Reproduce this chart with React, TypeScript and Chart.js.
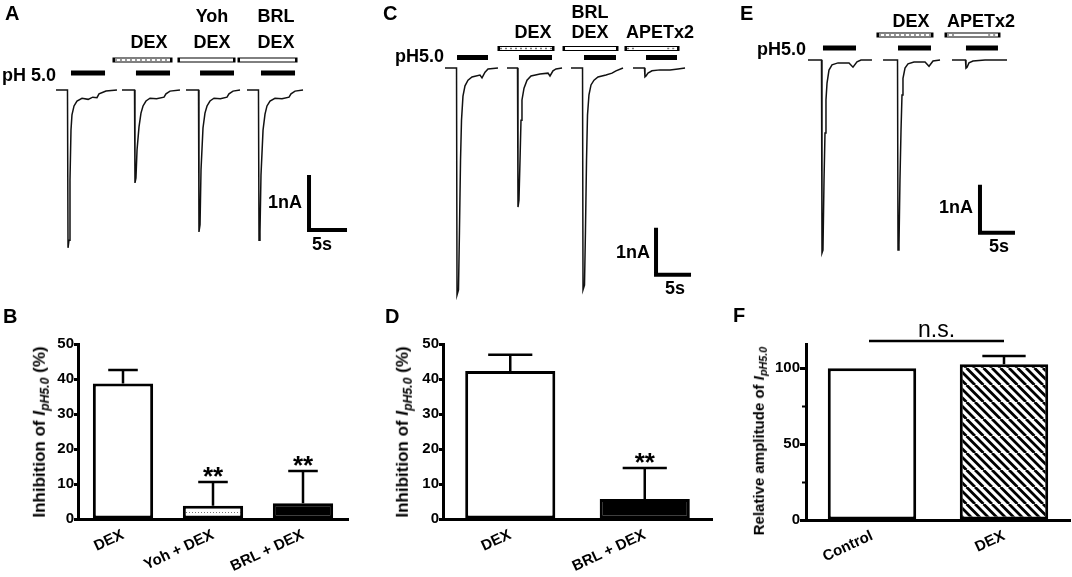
import React, { useEffect, useRef } from 'react';
import { Chart, registerables } from 'chart.js';

Chart.register(...registerables);

const FONT = "'Liberation Sans', Arial, Helvetica, sans-serif";

// ---------------- Panel A : currents [time (s), current (nA)] ----------------
const A_sweep1 = [[7.37,0],[8.88,0],[8.95,-2.87],[9.08,-2.73],[9.21,-1.64],[9.34,-0.73],[9.47,-0.45],[9.74,-0.29],[10.13,-0.2],[10.79,-0.15],[11.6,-0.17],[12.2,-0.13],[12.76,-0.14],[13.03,-0.07],[13.55,-0.04],[13.95,-0.02],[15.39,0]];
const A_sweep2 = [[16.05,0],[17.7,0],[17.76,-1.69],[17.89,-1.6],[18.03,-1.09],[18.29,-0.67],[18.55,-0.42],[18.82,-0.29],[19.21,-0.2],[19.74,-0.15],[20.6,-0.16],[21.58,-0.13],[21.84,-0.07],[22.37,-0.02],[23.68,0]];
const A_sweep3 = [[24.47,0],[26.12,0],[26.18,-2.58],[26.32,-2.45],[26.45,-1.45],[26.71,-0.69],[26.97,-0.42],[27.24,-0.29],[27.63,-0.2],[28.16,-0.15],[29.0,-0.16],[29.87,-0.13],[30.13,-0.07],[30.66,-0.02],[31.58,0]];
const A_sweep4 = [[32.5,0],[34.01,0],[34.08,-2.73],[34.21,-2.58],[34.34,-1.55],[34.61,-0.73],[34.87,-0.44],[35.13,-0.29],[35.53,-0.2],[36.18,-0.15],[37.1,-0.16],[38.03,-0.13],[38.29,-0.07],[38.82,-0.02],[39.87,0]];
const A_ph = [[9.34,13.82],[17.89,22.37],[26.32,30.79],[34.34,38.82]];
const A_drugWindows = [[15.13,22.37],[23.68,30.66],[31.58,38.82]];
const A_drugs = ['DEX','Yoh + DEX','BRL + DEX'];

// ---------------- Panel C ----------------
const C_sweep1 = [[12.14,0],[13.79,0],[13.86,-4.83],[14.07,-4.72],[14.21,-3.45],[14.36,-1.96],[14.5,-1.11],[14.71,-0.6],[15.0,-0.38],[15.43,-0.26],[16.0,-0.19],[17.14,-0.15],[17.43,-0.21],[17.86,-0.09],[18.29,-0.02],[19.71,0]];
const C_sweep2 = [[21.0,0],[22.5,0],[22.57,-2.96],[22.71,-2.81],[22.86,-1.96],[23.0,-1.11],[23.14,-0.68],[23.43,-0.43],[23.86,-0.26],[24.43,-0.17],[25.71,-0.13],[26.86,-0.11],[27.14,-0.17],[27.57,-0.06],[28.0,-0.02],[28.86,0]];
const C_sweep3 = [[30.14,0],[31.79,0],[31.86,-4.72],[32.07,-4.62],[32.21,-3.45],[32.36,-1.96],[32.5,-1.0],[32.71,-0.57],[33.0,-0.36],[33.43,-0.26],[34.0,-0.19],[35.14,-0.15],[36.0,-0.11],[36.57,-0.06],[37.57,0]];
const C_sweep4 = [[39.0,0],[40.64,0],[40.71,-0.19],[40.86,-0.17],[41.14,-0.11],[41.71,-0.06],[42.86,-0.04],[44.29,-0.04],[45.43,-0.02],[46.43,0]];
const C_ph = [[13.86,18.29],[22.71,27.43],[32.0,36.57],[40.86,45.29]];
const C_drugWindows = [[20.0,27.43],[29.29,36.57],[38.14,45.29]];
const C_drugs = ['DEX','BRL + DEX','APETx2'];

// ---------------- Panel E ----------------
const E_sweep1 = [[12.57,0],[14.5,0],[14.57,-4.02],[14.71,-3.96],[14.86,-2.5],[15.0,-1.52],[15.14,-0.83],[15.29,-0.48],[15.57,-0.21],[16.0,-0.1],[16.86,-0.06],[18.43,-0.06],[19.0,-0.15],[19.57,-0.04],[20.14,0],[21.71,0]];
const E_sweep2 = [[23.29,0],[25.36,0],[25.43,-3.96],[25.57,-3.85],[25.71,-2.5],[25.86,-1.46],[26.0,-0.73],[26.14,-0.38],[26.43,-0.17],[26.86,-0.08],[27.71,-0.04],[29.29,-0.04],[29.86,-0.13],[30.43,-0.02],[31.43,0]];
const E_sweep3 = [[33.14,0],[35.07,0],[35.14,-0.17],[35.29,-0.15],[35.57,-0.06],[36.14,-0.02],[37.86,0],[41.0,0]];
const E_ph = [[14.71,19.43],[25.43,30.14],[35.14,39.71]];
const E_drugWindows = [[22.71,30.14],[32.43,39.71]];
const E_drugs = ['DEX','APETx2'];

// ---------------- Bar panels ----------------
const B_categories = ['DEX','Yoh + DEX','BRL + DEX'];
const B_values = [38.7, 3.8, 4.5];
const B_errors = [3.9, 6.8, 9.2];
const B_sig = ['', '**', '**'];

const D_categories = ['DEX','BRL + DEX'];
const D_values = [42.3, 5.7];
const D_errors = [4.6, 8.9];
const D_sig = ['', '**'];

const F_categories = ['Control','DEX'];
const F_values = [100, 102.6];
const F_errors = [0, 5.5];
const F_sig = ['', ''];
const F_minorTicks = [25, 75];

// ---------------- layout (pixels / scaling only) ----------------
const LAYOUT_A = { left: 0, top: 0, width: 357, height: 300, pxPerSec: 7.6, pxPerNA: 55, baseline: 90, phLevel: 0.31, drugLevel: 0.545, scaleT: 40.66, scaleI: -1.545 };
const LAYOUT_C = { left: 360, top: 0, width: 357, height: 300, pxPerSec: 7.0, pxPerNA: 47, baseline: 68, phLevel: 0.223, drugLevel: 0.415, scaleT: 42.29, scaleI: -3.40 };
const LAYOUT_E = { left: 720, top: 0, width: 352, height: 300, pxPerSec: 7.0, pxPerNA: 48, baseline: 60, phLevel: 0.25, drugLevel: 0.52, scaleT: 37.14, scaleI: -2.6 };

const pts = (arr: number[][]) => arr.map(([x, y]) => ({ x, y }));

function traceConfig(L: any, sweeps: number[][][], ph: number[][], windows: number[][], drugs: string[]): any {
  const datasets: any[] = [];
  const line = (data: any[], color: string, width: number, order: number, extra: any = {}) => ({
    data, borderColor: color, borderWidth: width, showLine: true, pointRadius: 0, pointHoverRadius: 0,
    fill: false, tension: 0, order, ...extra,
  });
  sweeps.forEach((s) => datasets.push(line(pts(s), '#111', 1.5, 5)));
  ph.forEach(([a, b]) => datasets.push(line([{ x: a, y: L.phLevel }, { x: b, y: L.phLevel }], '#000', 5, 5)));
  windows.forEach(([a, b], i) => {
    const lv = L.drugLevel;
    datasets.push(line([{ x: a, y: lv }, { x: b, y: lv }], '#000', 5, 4, { borderCapStyle: 'square' }));
    datasets.push(line([{ x: a, y: lv }, { x: b, y: lv }], '#fff', 3, 3));
    const name = drugs[i];
    if (name === 'DEX') {
      datasets.push(line([{ x: a, y: lv }, { x: b, y: lv }], '#777', 1.6, 2, { borderDash: [2, 3] }));
    } else if (name === 'APETx2') {
      datasets.push(line([{ x: a, y: lv }, { x: a + 1.4, y: lv }], '#777', 1.6, 2, { borderDash: [2, 3] }));
      datasets.push(line([{ x: b - 1.4, y: lv }, { x: b, y: lv }], '#777', 1.6, 2, { borderDash: [2, 3] }));
    }
  });
  datasets.push(line([
    { x: L.scaleT, y: L.scaleI },
    { x: L.scaleT, y: L.scaleI - 1 },
    { x: L.scaleT + 5, y: L.scaleI - 1 },
  ], '#000', 4, 1, { borderJoinStyle: 'miter' }));
  return {
    type: 'scatter',
    data: { datasets },
    options: {
      animation: false, responsive: false, maintainAspectRatio: false,
      layout: { padding: 0 },
      events: [],
      plugins: { legend: { display: false }, tooltip: { enabled: false } },
      scales: {
        x: { type: 'linear', display: false, min: 0, max: L.width / L.pxPerSec },
        y: { type: 'linear', display: false, max: L.baseline / L.pxPerNA, min: -(L.height - L.baseline) / L.pxPerNA },
      },
    },
  };
}

const errorBarPlugin = {
  id: 'errorBars',
  afterDatasetsDraw(chart: any, _a: any, opts: any) {
    if (!opts || !opts.errors) return;
    const { ctx } = chart;
    const y = chart.scales.y;
    const meta = chart.getDatasetMeta(0);
    const vals = chart.data.datasets[0].data;
    ctx.save();
    meta.data.forEach((bar: any, i: number) => {
      const v = vals[i];
      const e = opts.errors[i] || 0;
      const x = bar.x;
      const w = bar.width;
      const yTop = y.getPixelForValue(v);
      const yErr = y.getPixelForValue(v + e);
      if (e > 0) {
        ctx.strokeStyle = '#000';
        ctx.lineWidth = 2.5;
        ctx.beginPath();
        ctx.moveTo(x, yTop);
        ctx.lineTo(x, yErr);
        ctx.moveTo(x - w * 0.245, yErr);
        ctx.lineTo(x + w * 0.245, yErr);
        ctx.stroke();
      }
      const s = opts.sig && opts.sig[i];
      if (s) {
        ctx.fillStyle = '#000';
        ctx.font = `bold 26px ${FONT}`;
        ctx.textAlign = 'center';
        ctx.textBaseline = 'alphabetic';
        ctx.fillText(s, x, yErr + 3);
      }
    });
    if (opts.minor && opts.minor.length) {
      const left = chart.chartArea.left;
      ctx.strokeStyle = '#000';
      ctx.lineWidth = 2;
      ctx.beginPath();
      opts.minor.forEach((m: number) => {
        const py = Math.round(y.getPixelForValue(m)) + 0.5;
        ctx.moveTo(left - 4, py);
        ctx.lineTo(left, py);
      });
      ctx.stroke();
    }
    ctx.restore();
  },
};

const bracketPlugin = {
  id: 'bracket',
  afterDraw(chart: any, _a: any, opts: any) {
    if (!opts || !opts.label) return;
    const { ctx } = chart;
    const meta = chart.getDatasetMeta(0);
    const x0 = meta.data[opts.from].x - 3;
    const x1 = meta.data[opts.to].x;
    const yy = chart.scales.y.getPixelForValue(opts.level);
    ctx.save();
    ctx.strokeStyle = '#000';
    ctx.lineWidth = 2.5;
    ctx.beginPath();
    ctx.moveTo(x0, yy);
    ctx.lineTo(x1, yy);
    ctx.stroke();
    ctx.fillStyle = '#000';
    ctx.font = `23px ${FONT}`;
    ctx.textAlign = 'center';
    ctx.textBaseline = 'alphabetic';
    ctx.fillText(opts.label, (x0 + x1) / 2, yy - 4);
    ctx.restore();
  },
};

function makeDots() {
  const c = document.createElement('canvas');
  c.width = 3; c.height = 5;
  const g = c.getContext('2d')!;
  g.fillStyle = '#fff'; g.fillRect(0, 0, 3, 5);
  g.fillStyle = '#777'; g.fillRect(0, 2, 1, 1);
  return g.createPattern(c, 'repeat');
}

function makeHatch() {
  const s = 8.5;
  const c = document.createElement('canvas');
  c.width = 17; c.height = 17;
  const g = c.getContext('2d')!;
  g.fillStyle = '#fff'; g.fillRect(0, 0, 17, 17);
  g.strokeStyle = '#000'; g.lineWidth = 2.8;
  g.beginPath();
  for (let k = -2; k <= 2; k++) {
    g.moveTo(k * s, 0);
    g.lineTo(k * s + 17, 17);
  }
  g.stroke();
  return g.createPattern(c, 'repeat');
}

function barConfig(p: any): any {
  return {
    type: 'bar',
    data: {
      labels: p.labels,
      datasets: [{
        data: p.values,
        backgroundColor: p.fills,
        borderColor: '#000',
        borderWidth: 3,
        borderSkipped: false,
        categoryPercentage: 1,
        barPercentage: 0.67,
      }],
    },
    plugins: [errorBarPlugin, bracketPlugin],
    options: {
      animation: false, responsive: false, maintainAspectRatio: false,
      events: [],
      layout: { padding: { top: p.padTop, right: p.padRight, left: 0, bottom: 0 } },
      plugins: {
        legend: { display: false },
        tooltip: { enabled: false },
        errorBars: { errors: p.errors, sig: p.sig, minor: p.minor || [] },
        bracket: p.bracket || {},
      },
      scales: {
        x: {
          grid: { display: false, drawTicks: false },
          border: { display: true, color: '#000', width: 3 },
          ticks: { color: '#000', font: { family: FONT, size: 15, weight: 'bold' }, minRotation: 25, maxRotation: 25, padding: 7, autoSkip: false },
          afterFit: (s: any) => { s.height = p.xHeight; s.paddingLeft = 0; s.paddingRight = 0; },
        },
        y: {
          min: 0, max: p.yMax,
          grid: { display: true, drawOnChartArea: false, drawTicks: true, tickLength: p.tickLen || 4, tickWidth: 3, tickColor: '#000' },
          border: { display: true, color: '#000', width: 3 },
          ticks: {
            stepSize: p.yStep,
            color: '#000', padding: 0,
            font: { family: FONT, size: 15, weight: 'bold' },
          },
          afterBuildTicks: (s: any) => { s.ticks = s.ticks.filter((t: any) => t.value % p.yStep === 0); },
          afterFit: (s: any) => { s.width = p.yWidth; s.paddingTop = 0; s.paddingBottom = 0; },
        },
      },
    },
  };
}

function ChartBox({ rect, build }: { rect: any; build: () => any }) {
  const ref = useRef<HTMLCanvasElement>(null);
  useEffect(() => {
    const chart = new Chart(ref.current as HTMLCanvasElement, build());
    return () => chart.destroy();
  }, []);
  return (
    <canvas
      ref={ref}
      width={rect.width}
      height={rect.height}
      style={{ position: 'absolute', left: rect.left, top: rect.top, width: rect.width, height: rect.height }}
    />
  );
}

function Txt({ x, base, size = 18, align = 'left', weight = 700, children }: any) {
  const tx = align === 'center' ? 'translateX(-50%)' : align === 'right' ? 'translateX(-100%)' : 'none';
  return (
    <div style={{
      position: 'absolute', left: x, top: base - 0.85 * size, fontFamily: FONT, fontSize: size,
      fontWeight: weight, lineHeight: `${size}px`, whiteSpace: 'nowrap', transform: tx, color: '#000',
    }}>{children}</div>
  );
}

function YTitle({ cx, cy, size, children }: any) {
  return (
    <div style={{
      position: 'absolute', left: cx, top: cy, transform: 'translate(-50%, -50%) rotate(-90deg)',
      whiteSpace: 'nowrap', fontFamily: FONT, fontSize: size, fontWeight: 700, color: '#000', lineHeight: 1.2,
    }}>{children}</div>
  );
}

const Ipsub = () => (
  <>
    <i>I</i><sub style={{ fontSize: '0.72em', fontStyle: 'italic', verticalAlign: '-0.3em' }}>pH5.0</sub>
  </>
);

export default function App() {
  const rectB = { left: 0, top: 300, width: 357, height: 277 };
  const rectD = { left: 360, top: 300, width: 357, height: 277 };
  const rectF = { left: 720, top: 300, width: 352, height: 277 };
  return (
    <div style={{ position: 'absolute', left: 0, top: 0, width: 1072, height: 577, background: '#fff', overflow: 'hidden' }}>
      <ChartBox rect={LAYOUT_A} build={() => traceConfig(LAYOUT_A, [A_sweep1, A_sweep2, A_sweep3, A_sweep4], A_ph, A_drugWindows, A_drugs)} />
      <ChartBox rect={LAYOUT_C} build={() => traceConfig(LAYOUT_C, [C_sweep1, C_sweep2, C_sweep3, C_sweep4], C_ph, C_drugWindows, C_drugs)} />
      <ChartBox rect={LAYOUT_E} build={() => traceConfig(LAYOUT_E, [E_sweep1, E_sweep2, E_sweep3], E_ph, E_drugWindows, E_drugs)} />
      <ChartBox rect={rectB} build={() => barConfig({
        labels: B_categories, values: B_values, errors: B_errors, sig: B_sig,
        fills: ['#fff', makeDots(), '#000'], yMax: 50, yStep: 10,
        yWidth: 78, xHeight: 58, padTop: 44, padRight: 9,
      })} />
      <ChartBox rect={rectD} build={() => barConfig({
        labels: D_categories, values: D_values, errors: D_errors, sig: D_sig,
        fills: ['#fff', '#000'], yMax: 50, yStep: 10,
        yWidth: 83, xHeight: 58, padTop: 44, padRight: 5,
      })} />
      <ChartBox rect={rectF} build={() => barConfig({
        labels: F_categories, values: F_values, errors: F_errors, sig: F_sig,
        fills: ['#fff', makeHatch()], yMax: 116, yStep: 50, minor: F_minorTicks, tickLen: 6,
        yWidth: 86, xHeight: 57, padTop: 44, padRight: 2,
        bracket: { from: 0, to: 1, level: 118, label: 'n.s.' },
      })} />

      {/* Panel A text */}
      <Txt x={5} base={20} size={20}>A</Txt>
      <Txt x={2} base={81}>pH 5.0</Txt>
      <Txt x={149} base={48} align="center">DEX</Txt>
      <Txt x={212} base={22} align="center">Yoh</Txt>
      <Txt x={212} base={48} align="center">DEX</Txt>
      <Txt x={276} base={22} align="center">BRL</Txt>
      <Txt x={276} base={48} align="center">DEX</Txt>
      <Txt x={302} base={208} align="right">1nA</Txt>
      <Txt x={312} base={250}>5s</Txt>

      {/* Panel C text */}
      <Txt x={383} base={20} size={20}>C</Txt>
      <Txt x={395} base={62}>pH5.0</Txt>
      <Txt x={533} base={38} align="center">DEX</Txt>
      <Txt x={590} base={18} align="center">BRL</Txt>
      <Txt x={590} base={38} align="center">DEX</Txt>
      <Txt x={660} base={38} align="center">APETx2</Txt>
      <Txt x={650} base={258} align="right">1nA</Txt>
      <Txt x={665} base={294}>5s</Txt>

      {/* Panel E text */}
      <Txt x={740} base={20} size={20}>E</Txt>
      <Txt x={757} base={55}>pH5.0</Txt>
      <Txt x={911} base={27} align="center">DEX</Txt>
      <Txt x={981} base={27} align="center">APETx2</Txt>
      <Txt x={973} base={213} align="right">1nA</Txt>
      <Txt x={989} base={252}>5s</Txt>

      {/* Bar panels */}
      <Txt x={3} base={323} size={20}>B</Txt>
      <Txt x={385} base={323} size={20}>D</Txt>
      <Txt x={733} base={322} size={20}>F</Txt>
      <YTitle cx={41} cy={432} size={17}>Inhibition of <Ipsub /> (%)</YTitle>
      <YTitle cx={404} cy={432} size={17}>Inhibition of <Ipsub /> (%)</YTitle>
      <YTitle cx={760} cy={441} size={15}>Relative amplitude of <Ipsub /></YTitle>
    </div>
  );
}
